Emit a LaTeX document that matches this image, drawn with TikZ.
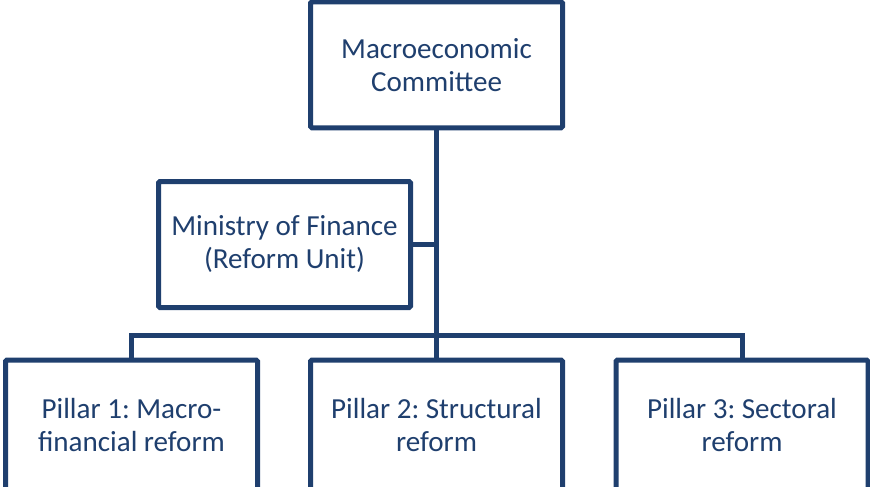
\documentclass[tikz,border=0pt]{standalone}
\usepackage{fontspec}
\setmainfont{Carlito}
\frenchspacing
\definecolor{navy}{RGB}{31,63,110}

\begin{document}
\begin{tikzpicture}[
    x=0.75pt, y=-0.75pt,
    line width=3.75pt,
    conn/.style={navy, line width=3.75pt},
    unit/.style={
      rectangle, draw=navy, fill=white, text=navy,
      minimum width=252*0.75pt, minimum height=126*0.75pt,
      rounded corners=1pt, align=center, inner sep=0pt,
      font=\fontsize{21.8}{24.75}\selectfont,
    },
  ]
  \useasboundingbox (0,0) rectangle (870,486);
  \clip (0,0) rectangle (870,486);

  \node[unit] (comm) at (436.5,64.75) {Macroeconomic\\Committee};
  \node[unit] (mof) at (284.5,244.5) {Ministry of Finance\\(Reform Unit)};
  \node[unit, minimum height=130*0.75pt] (p1) at (131.5,425) {Pillar 1: Macro-\\financial reform};
  \node[unit, minimum height=130*0.75pt] (p2) at (436.5,425) {Pillar 2: Structural\\reform};
  \node[unit, minimum height=130*0.75pt] (p3) at (742,425) {Pillar 3: Sectoral\\reform};

  \coordinate (bus) at (436.5,335);

  \draw[conn] (comm.south) -- (p2.north);
  \draw[conn] (mof.east) -- (mof.east -| comm.south);
  \draw[conn] (p1.north) |- (bus) -| (p3.north);
\end{tikzpicture}
\end{document}
